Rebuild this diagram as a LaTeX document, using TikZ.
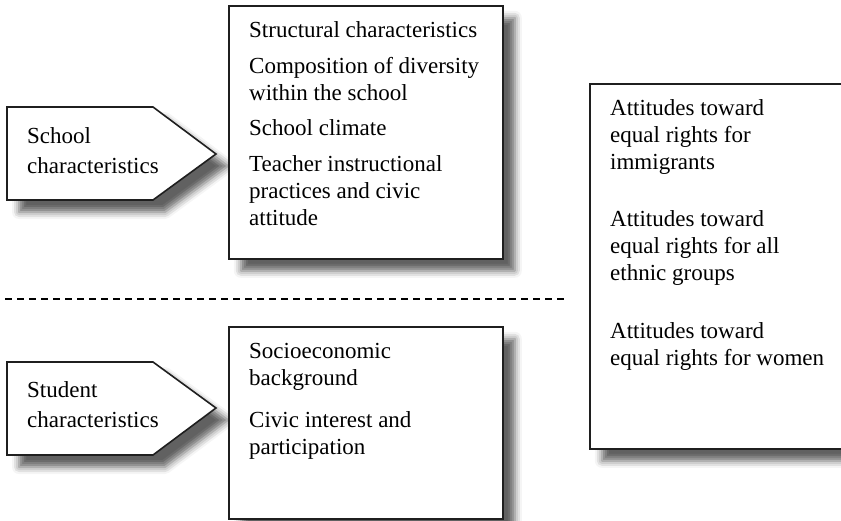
\documentclass[tikz,border=0pt]{standalone}
\usepackage{fontspec}
\setmainfont{Liberation Serif}
\usetikzlibrary{shadows.blur}
\begin{document}
\begin{tikzpicture}[x=1pt,y=-1pt,
    frame/.style={draw=black!88,line width=1.6pt,fill=white,
      blur shadow={shadow xshift=12pt,shadow yshift=-12pt,shadow blur radius=7pt,shadow opacity=62}},
    box/.style={frame,rectangle,anchor=north west,inner sep=0pt},
    txt/.style={anchor=north west,inner sep=0pt,align=left,font=\fontsize{23}{27}\selectfont}]
  \clip (0,0) rectangle (841,521);

  \draw[frame] (7,107) coordinate (school) -- ++(146,0) -- ++(63,47) -- ++(-63,46) -- ++(-146,0) -- cycle;
  \draw[frame] (7,362) coordinate (student) -- ++(146,0) -- ++(63,46) -- ++(-63,47) -- ++(-146,0) -- cycle;
  \node[txt] (schoollbl) at ([shift={(20,17)}]school) {\strut School\\[3pt]characteristics};
  \node[txt] (studentlbl) at ([shift={(20,16)}]student) {\strut Student\\[3pt]characteristics};

  \node[box,minimum width=274pt,minimum height=253pt] (schoolbox) at (228,5) {};
  \node[box,minimum width=274pt,minimum height=192pt] (studentbox) at (228,326) {};
  \node[box,minimum width=290pt,minimum height=365pt] (outcome) at (589,83) {};

  \node[txt] (schooltxt) at ([shift={(21,13)}]schoolbox.north west)
    {\strut Structural characteristics\\[9pt]Composition of diversity\\within the school\\[8pt]School climate\\[9pt]Teacher instructional\\practices and civic\\attitude};
  \node[txt] (studenttxt) at ([shift={(21,13)}]studentbox.north west)
    {\strut Socioeconomic\\background\\[15pt]Civic interest and\\participation};
  \node[txt] (outcometxt) at ([shift={(21,13)}]outcome.north west)
    {\strut Attitudes toward\\equal rights for\\immigrants\\[30pt]Attitudes toward\\equal rights for all\\ethnic groups\\[31pt]Attitudes toward\\equal rights for women};

  \coordinate (sepl) at (5,299);
  \coordinate (sepr) at (568,299);
  \draw[line width=1.3pt,dash pattern=on 7pt off 5pt] (sepl) -- (sepr);
\end{tikzpicture}
\end{document}
